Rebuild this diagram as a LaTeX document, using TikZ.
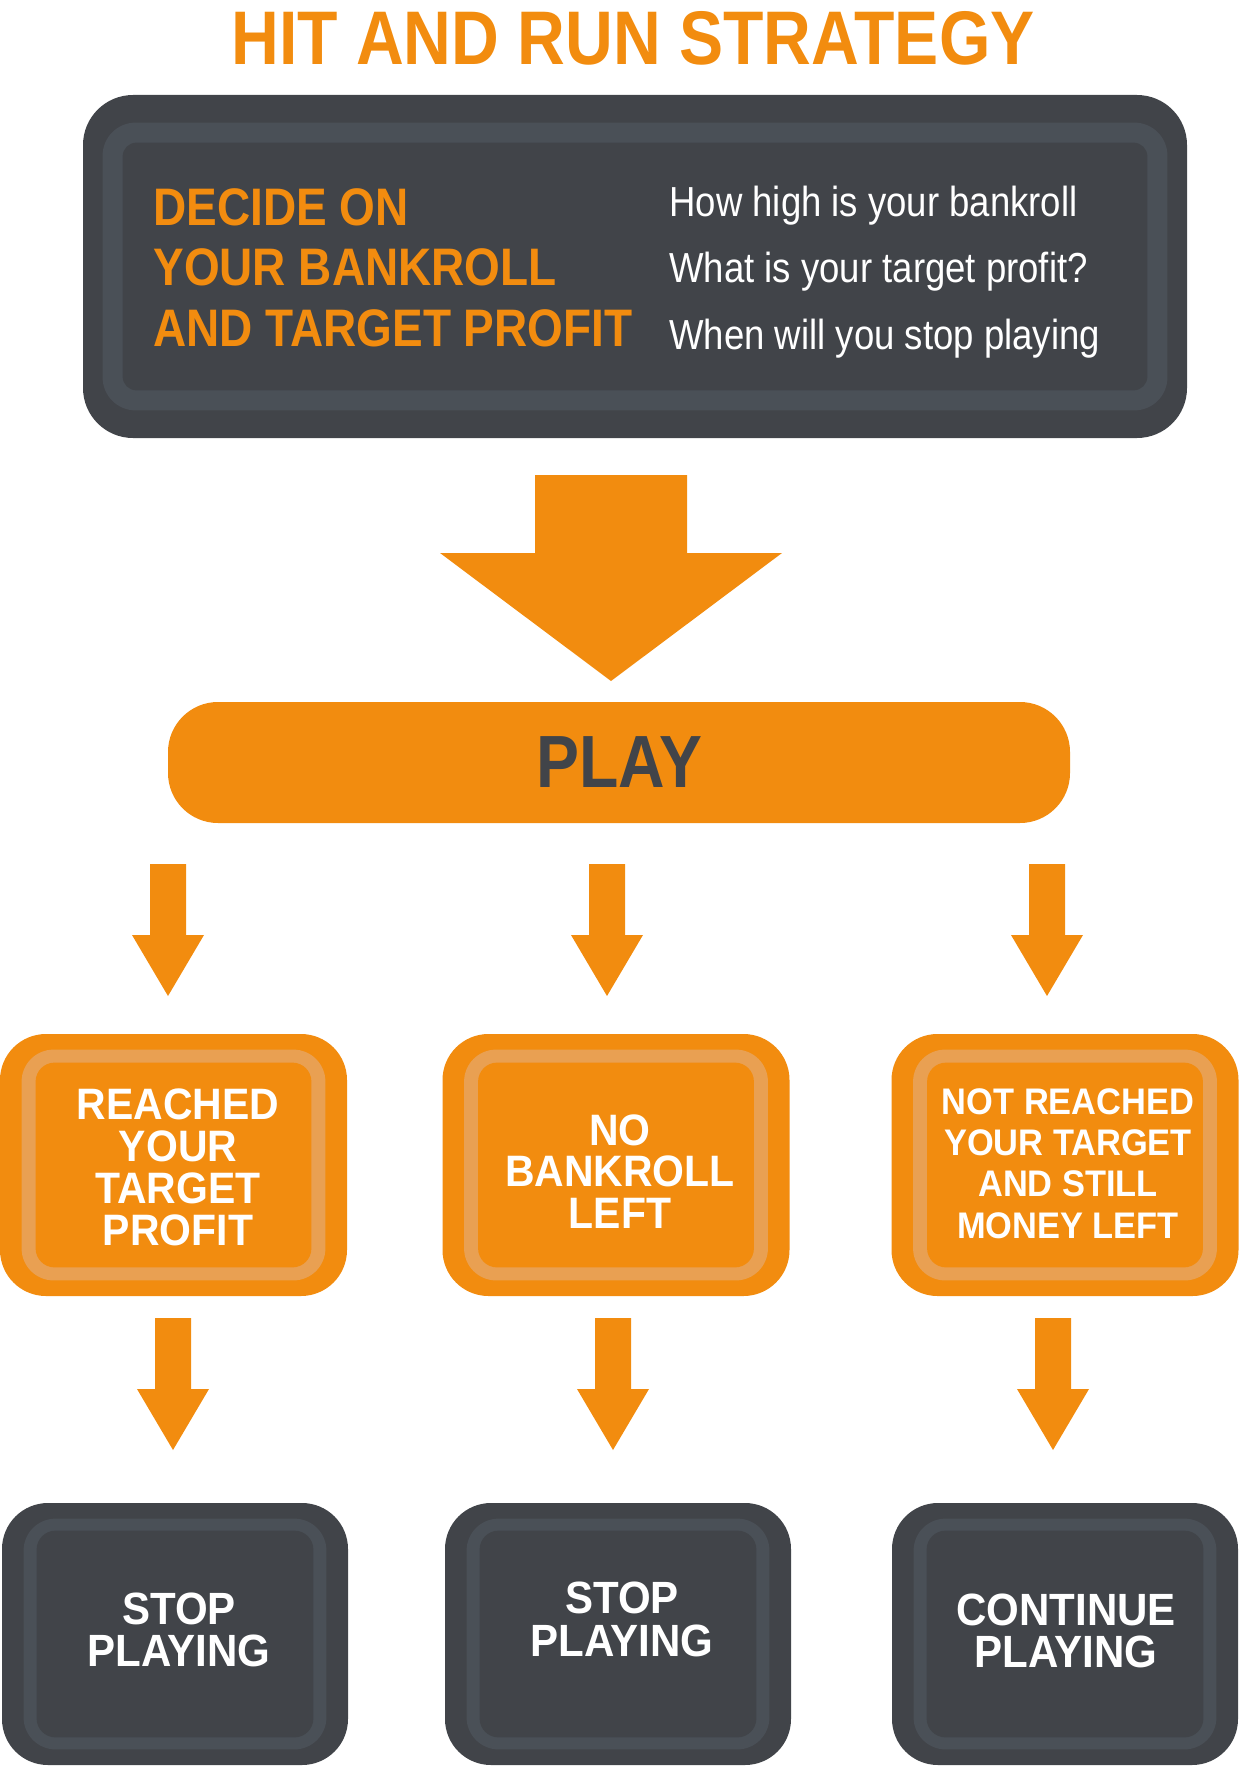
\documentclass[tikz,border=0pt]{standalone}
\usepackage{fontspec}
\usepackage{tikz}
\usetikzlibrary{calc,positioning}
\newfontfamily\condfont[FakeStretch=0.87]{Liberation Sans}
\newfontfamily\boxfont[FakeStretch=0.93]{Liberation Sans}
\definecolor{hrorange}{RGB}{242,140,15}
\definecolor{hrorangelight}{RGB}{233,160,82}
\definecolor{hrdark}{RGB}{65,68,73}
\definecolor{hrdarkband}{RGB}{74,80,87}

% band + inner panel inside a named box
\newcommand{\panel}[7]{%
  \fill[#2] ($(#1.north west)+(#4,#5)$) rectangle ($(#1.south east)+(-#4,-#5)$);
  \fill[#3] ($(#1.north west)+(#6,#7)$) rectangle ($(#1.south east)+(-#6,-#7)$);}
% block arrow: x, top, neck, tip, half shaft, half head
\newcommand{\blockarrow}[6]{%
  \fill[arrowfill] (#1-#5,#2) -- (#1+#5,#2) -- (#1+#5,#3) -- (#1+#6,#3) -- (#1,#4)
    -- (#1-#6,#3) -- (#1-#5,#3) -- cycle;}

\begin{document}
\begin{tikzpicture}[x=0.5pt, y=-0.5pt,
    topbox/.style={rectangle, fill=hrdark, rounded corners=25pt, inner sep=0pt,
                   minimum width=552pt, minimum height=171.5pt},
    topband/.style={fill=hrdarkband, rounded corners=16.5pt},
    topinner/.style={fill=hrdark, rounded corners=7pt},
    obox/.style={rectangle, fill=hrorange, rounded corners=23pt, inner sep=0pt,
                 minimum width=173.5pt, minimum height=131pt},
    oband/.style={fill=hrorangelight, rounded corners=16pt},
    oinner/.style={fill=hrorange, rounded corners=9.5pt},
    dbox/.style={rectangle, fill=hrdark, rounded corners=23pt, inner sep=0pt,
                 minimum width=173pt, minimum height=131pt},
    dband/.style={fill=hrdarkband, rounded corners=16pt},
    dinner/.style={fill=hrdark, rounded corners=9.5pt},
    boxtext/.style={inner sep=0pt, align=center, text=white,
                    font=\boxfont\bfseries\fontsize{22}{21}\selectfont},
    endtext/.style={boxtext, font=\boxfont\bfseries\fontsize{22.6}{21}\selectfont},
    question/.style={anchor=base west, inner sep=0pt, text=white,
                     font=\condfont\fontsize{21}{24}\selectfont},
    arrowfill/.style={fill=hrorange}
]
    \useasboundingbox (0,0) rectangle (1240,1766);

    \node[anchor=base, inner sep=0pt, text=hrorange,
          font=\condfont\bfseries\fontsize{38}{40}\selectfont] (title) at (633,65) {HIT AND RUN STRATEGY};

    % top box
    \node[topbox] (decide) at (635,266.5) {};
    \panel{decide}{topband}{topinner}{20}{28}{40}{48}
    \node[anchor=north west, inner sep=0pt, align=left, text=hrorange,
          font=\condfont\bfseries\fontsize{26.4}{30.25}\selectfont] (goal) at (153,188)
          {DECIDE ON\\YOUR BANKROLL\\AND TARGET PROFIT};
    \node[question] (q1) at (669,216) {How high is your bankroll};
    \node[question] (q2) at (669,282) {What is your target profit?};
    \node[question] (q3) at (669,349) {When will you stop playing};

    \blockarrow{611}{475}{553}{681}{76}{171}

    \node[rectangle, fill=hrorange, rounded corners=25pt, minimum width=451pt,
          minimum height=60.5pt, inner sep=0pt, text=hrdark,
          font=\condfont\bfseries\fontsize{37}{40}\selectfont] (play) at (619,762.5) {PLAY};

    \blockarrow{168}{864}{935}{996}{18}{36}
    \blockarrow{607}{864}{935}{996}{18}{36}
    \blockarrow{1047}{864}{935}{996}{18}{36}

    % outcomes
    \node[obox] (reached) at (173.5,1165) {};
    \node[obox] (broke)   at (616,1165) {};
    \node[obox] (notyet)  at (1065,1165) {};
    \panel{reached}{oband}{oinner}{22}{16}{36}{29}
    \panel{broke}{oband}{oinner}{22}{16}{36}{29}
    \panel{notyet}{oband}{oinner}{22}{16}{36}{29}
    \node[boxtext] (reachedtxt) at (178,1167.5) {REACHED\\YOUR\\TARGET\\PROFIT};
    \node[boxtext, font=\boxfont\bfseries\fontsize{22}{20.75}\selectfont] (brokentxt) at (620,1171.5) {NO\\BANKROLL\\LEFT};
    \node[boxtext, font=\boxfont\bfseries\fontsize{18.5}{20.7}\selectfont] (notyettxt) at (1068,1163.5)
          {NOT REACHED\\YOUR TARGET\\AND STILL\\MONEY LEFT};

    \blockarrow{173}{1318}{1389}{1450}{18}{36}
    \blockarrow{613}{1318}{1389}{1450}{18}{36}
    \blockarrow{1053}{1318}{1389}{1450}{18}{36}

    % decisions
    \node[dbox] (stopa)  at (175,1634) {};
    \node[dbox] (stopb)  at (618,1634) {};
    \node[dbox] (goon)   at (1065,1634) {};
    \panel{stopa}{dband}{dinner}{22}{16}{35}{28}
    \panel{stopb}{dband}{dinner}{22}{16}{35}{28}
    \panel{goon}{dband}{dinner}{22}{16}{35}{28}
    \node[endtext] (stopatxt) at (179,1630) {STOP\\PLAYING};
    \node[endtext, font=\boxfont\bfseries\fontsize{22.6}{21.5}\selectfont] (stopbtxt) at (622,1619.5) {STOP\\PLAYING};
    \node[endtext] (goontxt) at (1066,1631) {CONTINUE\\PLAYING};
\end{tikzpicture}
\end{document}
